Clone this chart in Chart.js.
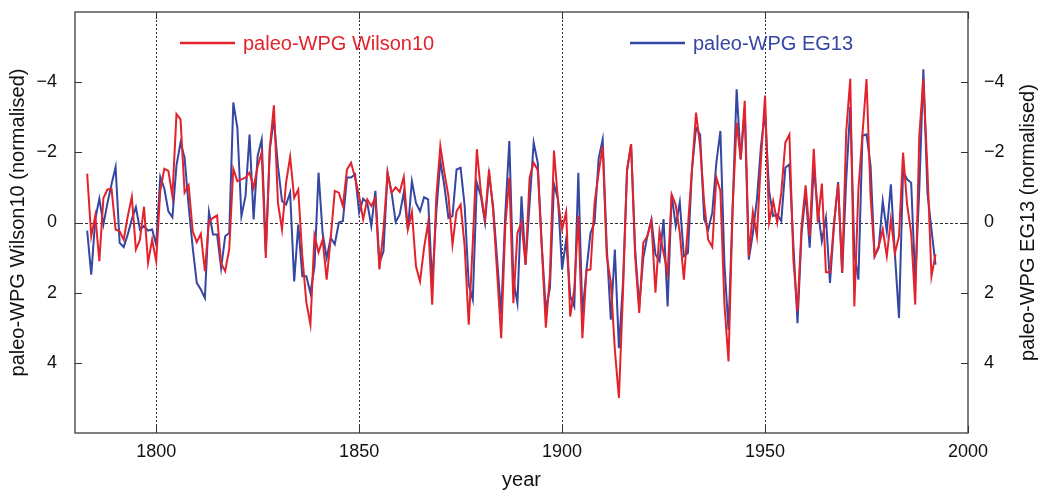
<!DOCTYPE html>
<html>
<head>
<meta charset="utf-8">
<script src="https://cdn.jsdelivr.net/npm/chart.js@4.4.0/dist/chart.umd.min.js"></script>
<style>
  html, body { margin: 0; padding: 0; background: #fff; }
  #wrap { width: 1041px; height: 493px; }
</style>
</head>
<body>
<div id="wrap"><canvas id="myChart" width="1041" height="493"></canvas></div>
<script>
// 연도 (1783 ~ 1992)
const firstYear = 1783;
const lastYear = 1992;

// paleo-WPG Wilson10 (normalised)
const wilson10 = [
  -1.39, 0.39, -0.2, 1.1, -0.7, -0.94, -0.96, 0.2, 0.25, 0.49,
  -0.18, -0.73, 0.77, 0.49, -0.45, 1.15, 0.49, 1.1, -0.9, -1.53,
  -1.47, -0.75, -3.09, -2.94, -0.85, -1.06, 0.25, 0.56, 0.32, 1.39,
  -0.04, -0.13, -0.2, 1.17, 1.39, 0.75, -1.53, -1.18, -1.23, -1.28,
  -1.42, -0.99, -1.6, -2.0, 1.01, -2.13, -3.34, -0.56, 0.2, -1.13,
  -1.87, -0.7, -0.94, 0.96, 2.28, 2.91, 0.37, 0.85, 0.49, 1.63,
  0.44, -0.9, -0.85, -0.47, -1.51, -1.7, -1.28, -0.75, -0.09, -0.66,
  -0.47, -0.7, 1.34, 0.2, -1.42, -0.85, -1.0, -0.87, -1.3, 0.2,
  -0.3, 1.25, 1.68, 0.72, 0.0, 2.34, -0.7, -2.18, -1.42, -0.75,
  0.63, -0.32, -0.51, 0.68, 2.91, 0.58, -2.09, -0.85, -0.09, -1.51,
  -0.37, 1.44, 3.3, 0.1, -1.28, 2.3, 0.3, 0.0, 1.2, -1.28,
  -1.7, -1.5, 0.7, 3.0, 1.5, -2.05, -0.6, 0.2, -0.3, 2.68,
  1.91, -0.2, 3.3, 1.36, 1.34, -0.56, -1.42, -2.18, 0.96, 1.7,
  3.63, 5.0, 2.0, -1.51, -2.23, 0.96, 2.58, 0.58, 0.39, -0.04,
  2.0, 0.25, 0.87, 1.44, -0.8, -0.5, 0.3, 1.63, 0.1, -1.51,
  -3.13, -2.18, -0.56, 0.49, 0.7, -1.28, -0.9, 2.34, 3.96, -0.37,
  -2.85, -1.8, -3.47, 0.96, -0.3, 0.39, -1.8, -3.62, 0.0, -0.61,
  0.0, -0.85, -2.28, -2.51, 1.1, 2.53, 0.1, -1.06, 0.39, -2.1,
  0.0, -1.11, 1.42, 1.42, 0.0, -1.09, 1.42, -2.6, -4.1, 2.39,
  -0.94, -2.51, -4.09, -0.75, 0.96, 0.68, 0.2, 0.96, -0.09, 0.87,
  0.39, -1.99, -0.51, 0.3, 2.34, -2.47, -4.09, -1.51, 1.53, 0.91
];

// paleo-WPG EG13 (normalised)
const eg13 = [
  0.23, 1.49, -0.1, -0.68, 0.06, -0.56, -1.09, -1.58, 0.58, 0.7,
  0.34, -0.09, -0.44, 0.2, 0.1, 0.23, 0.2, 0.63, -1.3, -0.97,
  -0.32, -0.15, -1.63, -2.28, -1.85, -0.47, 0.72, 1.72, 1.91, 2.15,
  -0.3, 0.34, 0.34, 1.3, 0.39, 0.3, -3.42, -2.7, -0.18, -0.75,
  -2.51, -0.09, -1.9, -2.37, 0.82, -2.09, -2.94, -1.61, -0.61, -0.51,
  -0.85, 1.68, 0.06, 1.53, 1.53, 2.01, 1.25, -1.42, 0.3, 1.01,
  0.44, 0.62, 0.0, -0.04, -1.28, -1.28, -1.37, -0.28, -0.68, -0.56,
  0.1, -0.9, 1.15, 0.82, -1.42, -0.85, -0.01, -0.23, -0.85, 0.2,
  -1.18, -0.56, -0.32, -0.72, -0.66, 1.77, -0.28, -1.75, -1.04, -0.13,
  -0.18, -1.51, -1.56, -0.47, 1.77, 2.2, -1.13, -0.75, 0.0, -1.37,
  -0.47, 1.06, 2.63, -0.23, -2.32, 1.63, 2.3, -0.75, 1.2, -0.56,
  -2.28, -1.7, 0.68, 2.49, 1.87, -1.09, -0.66, 1.34, 0.49, 2.1,
  2.39, -1.42, 2.63, 1.36, 0.3, 0.0, -1.82, -2.37, 0.68, 2.77,
  0.77, 3.58, 1.72, -1.47, -2.23, 0.77, 2.39, 1.01, 0.39, -0.09,
  0.91, 1.1, -0.1, 2.39, -0.8, 0.1, -0.58, 0.96, 0.87, -1.51,
  -2.7, -2.51, -0.09, 0.2, -0.28, -1.7, -2.61, 1.2, 3.06, -0.37,
  -3.8, -1.8, -3.23, 1.06, 0.3, -0.66, -2.18, -3.13, -0.9, -0.18,
  -0.23, -0.04, -1.56, -1.66, 0.68, 2.87, 0.3, -0.85, 0.72, -1.56,
  -0.37, 0.53, -0.13, 1.72, 0.06, -1.15, 1.44, -1.23, -3.3, 0.87,
  1.63, -2.47, -2.51, -1.61, 0.96, 0.72, -0.61, 0.25, -1.09, 0.91,
  2.72, -1.47, -1.23, -1.13, 1.68, -0.94, -4.37, -0.85, 0.2, 1.2
];

// 축 눈금
const xTicks = [1800, 1850, 1900, 1950, 2000];
const gridYears = [1800, 1850, 1900, 1950];
const yTicks = [-4, -2, 0, 2, 4];

const years = [];
for (let y = firstYear; y <= lastYear; y++) years.push(y);

const toPoints = (arr) => arr.map((v, i) => ({x: years[i], y: v}));

const FONT = 'Liberation Sans, Arial, Helvetica, sans-serif';
const RED = '#e3232c';
const BLUE = '#3447a2';

// 격자, 테두리, 안쪽 눈금, 범례
const framePlugin = {
  id: 'frame',
  beforeDatasetsDraw(chart) {
    const {ctx, chartArea: a, scales} = chart;
    ctx.save();
    ctx.strokeStyle = '#333';
    ctx.lineWidth = 1;
    ctx.setLineDash([2, 2]);
    gridYears.forEach((v) => {
      const px = Math.round(scales.x.getPixelForValue(v)) + 0.5;
      ctx.beginPath(); ctx.moveTo(px, a.top); ctx.lineTo(px, a.bottom); ctx.stroke();
    });
    ctx.setLineDash([3, 2]);
    const py = Math.round(scales.y.getPixelForValue(0)) + 0.5;
    ctx.beginPath(); ctx.moveTo(a.left, py); ctx.lineTo(a.right, py); ctx.stroke();
    ctx.restore();
  },
  afterDatasetsDraw(chart) {
    const {ctx, chartArea: a, scales} = chart;
    ctx.save();
    ctx.strokeStyle = '#555';
    ctx.lineWidth = 1.5;
    ctx.strokeRect(a.left, a.top, a.right - a.left, a.bottom - a.top);
    ctx.lineWidth = 1;
    ctx.strokeStyle = '#333';
    const tl = 7;
    xTicks.forEach((v) => {
      const px = Math.round(scales.x.getPixelForValue(v)) + 0.5;
      ctx.beginPath();
      ctx.moveTo(px, a.bottom); ctx.lineTo(px, a.bottom - tl);
      ctx.moveTo(px, a.top); ctx.lineTo(px, a.top + tl);
      ctx.stroke();
    });
    yTicks.forEach((v) => {
      const py = Math.round(scales.y.getPixelForValue(v)) + 0.5;
      ctx.beginPath();
      ctx.moveTo(a.left, py); ctx.lineTo(a.left + tl, py);
      ctx.moveTo(a.right, py); ctx.lineTo(a.right - tl, py);
      ctx.stroke();
    });

    // 범례
    const legendY = 43;
    const items = [
      {ds: chart.data.datasets[0], x: a.left + 105},
      {ds: chart.data.datasets[1], x: a.left + 555}
    ];
    ctx.font = '20px ' + FONT;
    ctx.textBaseline = 'middle';
    ctx.textAlign = 'left';
    items.forEach((it) => {
      ctx.strokeStyle = it.ds.borderColor;
      ctx.lineWidth = 2.5;
      ctx.beginPath(); ctx.moveTo(it.x, legendY); ctx.lineTo(it.x + 55, legendY); ctx.stroke();
      ctx.fillStyle = it.ds.borderColor;
      ctx.fillText(it.ds.label, it.x + 63, legendY + 1);
    });

    // 오른쪽 축 제목
    ctx.fillStyle = '#111';
    ctx.textAlign = 'center';
    ctx.translate(1028, (a.top + a.bottom) / 2);
    ctx.rotate(-Math.PI / 2);
    ctx.fillText('paleo-WPG EG13 (normalised)', 0, 0);
    ctx.restore();
  }
};

const tickFont = {family: FONT, size: 18};
const titleFont = {family: FONT, size: 20};
const yLabel = (v) => (v < 0 ? '\u2212' + Math.abs(v) : String(v));

// 세로축 라벨 여백 제거 (플롯 영역을 위쪽 12px까지)
const noVPad = (s) => { s.paddingTop = 0; s.paddingBottom = 0; };

const config = {
  type: 'line',
  data: {
    datasets: [
      {
        label: 'paleo-WPG Wilson10',
        data: toPoints(wilson10),
        borderColor: RED,
        borderWidth: 2,
        pointRadius: 0,
        tension: 0,
        yAxisID: 'y'
      },
      {
        label: 'paleo-WPG EG13',
        data: toPoints(eg13),
        borderColor: BLUE,
        borderWidth: 2,
        pointRadius: 0,
        tension: 0,
        yAxisID: 'y2'
      }
    ]
  },
  options: {
    responsive: false,
    animation: false,
    devicePixelRatio: 1,
    layout: {padding: {top: 12, left: 0, right: 0, bottom: 0}},
    plugins: {
      legend: {display: false},
      tooltip: {enabled: false}
    },
    scales: {
      x: {
        type: 'linear',
        min: 1780,
        max: 2000,
        afterBuildTicks: (s) => { s.ticks = xTicks.map((v) => ({value: v})); },
        afterFit: (s) => { s.height = 60; s.paddingLeft = 0; s.paddingRight = 0; },
        grid: {display: false, drawTicks: false},
        border: {display: false},
        ticks: {font: tickFont, color: '#111', padding: 8, maxRotation: 0, callback: (v) => String(v)},
        title: {display: true, text: 'year', font: titleFont, color: '#111', padding: {top: 0, bottom: 1}}
      },
      y: {
        position: 'left',
        reverse: true,
        min: -6,
        max: 6,
        afterBuildTicks: (s) => { s.ticks = yTicks.map((v) => ({value: v})); },
        afterFit: (s) => { s.width = 75; noVPad(s); },
        grid: {display: false, drawTicks: false},
        border: {display: false},
        ticks: {font: tickFont, color: '#111', padding: 18, callback: yLabel},
        title: {display: true, text: 'paleo-WPG Wilson10 (normalised)', font: titleFont, color: '#111', padding: {top: 6, bottom: 0}}
      },
      y2: {
        position: 'right',
        reverse: true,
        min: -6,
        max: 6,
        afterBuildTicks: (s) => { s.ticks = yTicks.map((v) => ({value: v})); },
        afterFit: (s) => { s.width = 73; noVPad(s); },
        grid: {display: false, drawTicks: false},
        border: {display: false},
        ticks: {font: tickFont, color: '#111', padding: 16, callback: yLabel}
      }
    }
  },
  plugins: [framePlugin]
};

let myChart = new Chart(document.getElementById('myChart'), config);
</script>
</body>
</html>
